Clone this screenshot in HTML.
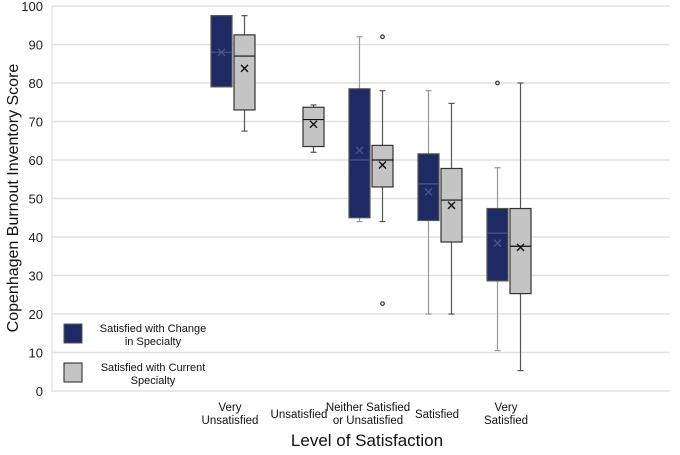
<!DOCTYPE html>
<html><head><meta charset="utf-8"><style>
body{margin:0;background:#fff;font-family:"Liberation Sans",Arial,sans-serif}
svg{display:block}
</style></head><body>
<svg id="chart" width="680" height="455" xmlns="http://www.w3.org/2000/svg">
<g id="grid"></g>
<line x1="52" x2="52" y1="6" y2="392" stroke="#e2e2e2" stroke-width="1.2"/>
<g id="yticks"></g>
<g id="xlabels"></g>
<g id="boxes"></g>
<text x="18" y="198" transform="rotate(-90 18 198)" text-anchor="middle" font-size="16" fill="#111">Copenhagen Burnout Inventory Score</text>
<text x="367" y="446" text-anchor="middle" font-size="17" fill="#111">Level of Satisfaction</text>
<g>
<g>
<rect x="64" y="324" width="18" height="19" fill="#1e2a63" stroke="#555"/>
<text x="153" y="332" text-anchor="middle" font-size="11" fill="#111">Satisfied with Change</text>
<text x="153" y="345" text-anchor="middle" font-size="11" fill="#111">in Specialty</text></g>
<g>
<rect x="64" y="363" width="18" height="19" fill="#c4c4c4" stroke="#222"/>
<text x="153" y="371" text-anchor="middle" font-size="11" fill="#111">Satisfied with Current</text>
<text x="153" y="384" text-anchor="middle" font-size="11" fill="#111">Specialty</text></g>
</g>
</svg>
<script>
const categories=[["Very","Unsatisfied"],["Unsatisfied"],["Neither Satisfied","or Unsatisfied"],["Satisfied"],["Very","Satisfied"]];
const yTicks=[0,10,20,30,40,50,60,70,80,90,100];
// [min,q1,median,q3,max,mean] ; null = no data
const changeStats=[[null,79,88,97.5,null,88],null,[44,45,60,78.5,92,62.5],[20,44.3,53.8,61.6,78,51.7],[10.5,28.6,41,47.4,58,38.4]];
const currentStats=[[67.5,73,87,92.5,97.5,83.8],[62,63.5,70.5,73.7,74.3,69.3],[44,53,60,63.8,78,58.7],[20,38.7,49.6,57.8,74.7,48.2],[5.3,25.3,37.6,47.4,80,37.3]];
const changeOutliers=[[],[],[],[],[80]];
const currentOutliers=[[],[],[92,22.7],[],[]];
const NS="http://www.w3.org/2000/svg";
const y=v=>391-v*3.85;
const xc=i=>233+69*i;
function mk(t,a,p){const e=document.createElementNS(NS,t);for(const k in a)e.setAttribute(k,a[k]);p.appendChild(e);return e;}
const grid=document.getElementById('grid'),yt=document.getElementById('yticks'),xl=document.getElementById('xlabels'),bx=document.getElementById('boxes');
yTicks.forEach(v=>{
 const l=mk('line',{x1:52,x2:670,y1:y(v),y2:y(v),stroke:'#e2e2e2','stroke-width':1.5},grid);
 
 
 const t=mk('text',{x:43,y:y(v)+5,'text-anchor':'end','font-size':13,fill:'#222'},yt);
 t.textContent=v;
 
 
});
categories.forEach((c,i)=>{
 const t=mk('text',{'text-anchor':'middle','font-size':11.5,fill:'#111'},xl);
 
 
 const y0=c.length>1?411:418;
 c.forEach((s,j)=>{const ts=mk('tspan',{x:xc(i)-3,y:y0+j*13},t);ts.textContent=s;});
});
function drawBox(s,outs,cx,fill,stroke,wc,mc,name){
 const g=mk('g',{},bx);
 
 
 const w=21,hw=w/2;
 if(s){
  if(s[0]!=null){mk('line',{x1:cx,x2:cx,y1:y(s[0]),y2:y(s[1]),stroke:wc,'stroke-width':1.2},g);mk('line',{x1:cx-3,x2:cx+3,y1:y(s[0]),y2:y(s[0]),stroke:wc,'stroke-width':1.2},g);}
  if(s[4]!=null){mk('line',{x1:cx,x2:cx,y1:y(s[4]),y2:y(s[3]),stroke:wc,'stroke-width':1.2},g);mk('line',{x1:cx-3,x2:cx+3,y1:y(s[4]),y2:y(s[4]),stroke:wc,'stroke-width':1.2},g);}
  mk('rect',{x:cx-hw,y:y(s[3]),width:w,height:y(s[1])-y(s[3]),fill:fill,stroke:stroke,'stroke-width':1.2},g);
  mk('line',{x1:cx-hw,x2:cx+hw,y1:y(s[2]),y2:y(s[2]),stroke:mc,'stroke-width':1.2},g);
  const m=y(s[5]);
  mk('path',{d:`M${cx-3.5} ${m-3.5}L${cx+3.5} ${m+3.5}M${cx+3.5} ${m-3.5}L${cx-3.5} ${m+3.5}`,stroke:mc,'stroke-width':1.4},g);
 }
 outs.forEach(o=>mk('circle',{cx:cx,cy:y(o),r:1.8,fill:'none',stroke:'#333','stroke-width':1.2},g));
}
categories.forEach((c,i)=>{
 drawBox(changeStats[i],changeOutliers[i],xc(i)-11.5,'#1e2a63','#555','#999','#4a5588','box-change-'+i);
 drawBox(currentStats[i],currentOutliers[i],xc(i)+11.5,'#c4c4c4','#333','#555','#111','box-current-'+i);
});
</script>
</body></html>
